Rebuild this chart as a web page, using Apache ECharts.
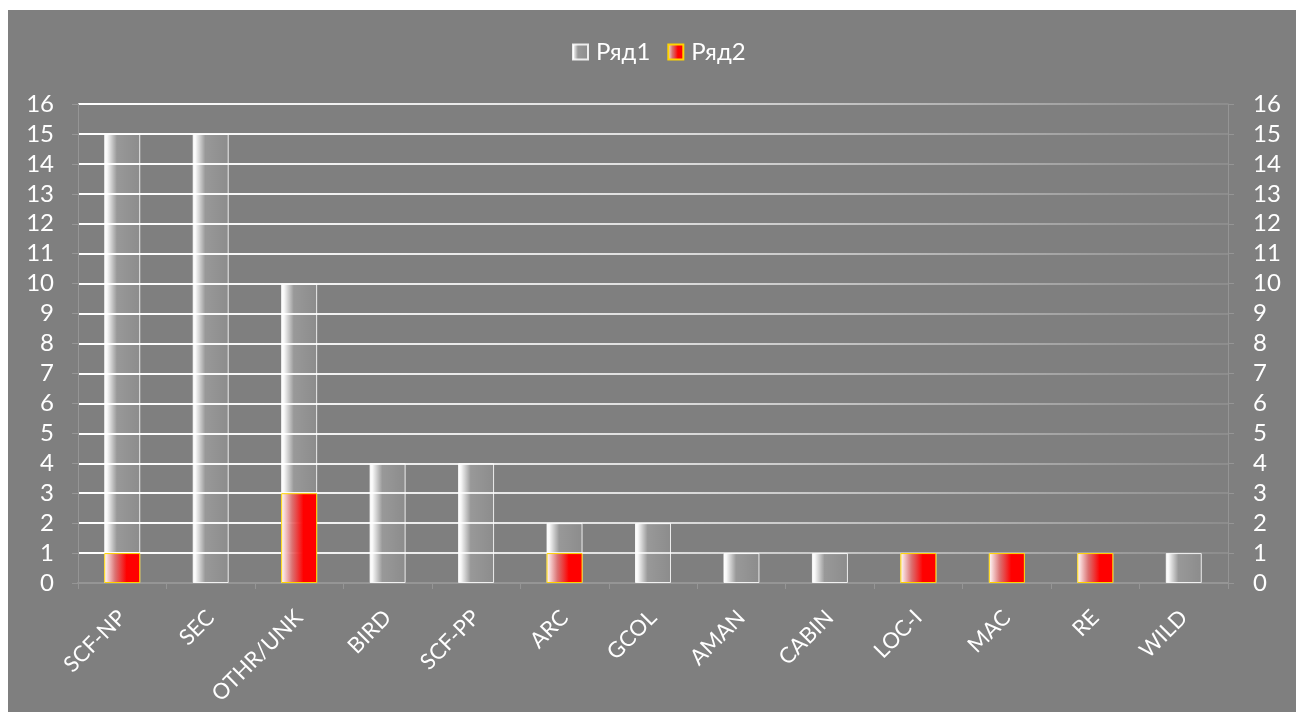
<!DOCTYPE html>
<html>
<head>
<meta charset="utf-8">
<script src="https://cdn.jsdelivr.net/npm/echarts@6/dist/echarts.min.js"></script>
<style>
  html, body { margin: 0; padding: 0; background: #ffffff; }
  #chart { position: absolute; left: 8px; top: 10px; width: 1288px; height: 702px; background: #7f7f7f; }
</style>
</head>
<body>
<div id="chart"></div>
<script>
// Event categories and counts per series
const categories = ['SCF-NP', 'SEC', 'OTHR/UNK', 'BIRD', 'SCF-PP', 'ARC', 'GCOL', 'AMAN', 'CABIN', 'LOC-I', 'MAC', 'RE', 'WILD'];
const series1Name = 'Ряд1';
const series2Name = 'Ряд2';
const series1Values = [15, 15, 10, 4, 4, 2, 2, 1, 1, 1, 1, 1, 1];
const series2Values = [1, 0, 3, 0, 0, 1, 0, 0, 0, 1, 1, 1, 0];

// zero counts are left empty so no outline is drawn on the baseline
const asBars = arr => arr.map(v => (v === 0 ? '-' : v));

const chart = echarts.init(document.getElementById('chart'));
const LG = echarts.graphic.LinearGradient;
const font = 'Lato, "Liberation Sans", sans-serif';

const silverFill = new LG(0, 0, 1, 0, [
  { offset: 0, color: 'rgba(255,255,255,1)' },
  { offset: 0.08, color: 'rgba(255,255,255,0.95)' },
  { offset: 0.35, color: 'rgba(255,255,255,0.2)' },
  { offset: 1, color: 'rgba(255,255,255,0.1)' }
]);
const redFill = new LG(0, 0, 1, 0, [
  { offset: 0, color: 'rgba(255,255,255,0.92)' },
  { offset: 0.3, color: 'rgba(225,110,110,0.9)' },
  { offset: 0.62, color: 'rgba(255,0,0,1)' },
  { offset: 1, color: 'rgba(255,0,0,1)' }
]);
const gridFade = new LG(0, 0, 1, 0, [
  { offset: 0, color: 'rgba(255,255,255,1)' },
  { offset: 0.5, color: 'rgba(255,255,255,0.75)' },
  { offset: 1, color: 'rgba(255,255,255,0.1)' }
]);

const axisGray = '#959595';

chart.setOption({
  animation: false,
  backgroundColor: '#7f7f7f',
  legend: {
    top: 25,
    left: 559,
    itemWidth: 15,
    itemHeight: 15,
    itemGap: 17,
    textStyle: { color: '#ffffff', fontSize: 24, fontFamily: font, padding: [0, 0, 0, 3] },
    data: [
      { name: series1Name, icon: 'rect' },
      { name: series2Name, icon: 'rect' }
    ]
  },
  grid: { left: 70, right: 68, top: 94, bottom: 129, containLabel: false },
  xAxis: {
    type: 'category',
    data: categories,
    boundaryGap: true,
    axisLine: { lineStyle: { color: axisGray, width: 2 } },
    axisTick: { show: true, alignWithLabel: false, length: 6, lineStyle: { color: axisGray } },
    axisLabel: {
      color: '#ffffff', fontSize: 22, fontFamily: font,
      rotate: 45, margin: 31, interval: 0
    }
  },
  yAxis: [
    {
      type: 'value', min: 0, max: 16, interval: 1, position: 'left',
      axisLine: { show: true, lineStyle: { color: axisGray, width: 1 } },
      axisTick: { show: true, length: 6, lineStyle: { color: axisGray } },
      axisLabel: { color: '#ffffff', fontSize: 24, fontFamily: font, margin: 24 },
      splitLine: { show: true, lineStyle: { color: gridFade, width: 2 } }
    },
    {
      type: 'value', min: 0, max: 16, interval: 1, position: 'right',
      axisLine: { show: true, lineStyle: { color: axisGray, width: 1 } },
      axisTick: { show: true, length: 6, lineStyle: { color: axisGray } },
      axisLabel: { color: '#ffffff', fontSize: 24, fontFamily: font, margin: 25 },
      splitLine: { show: false }
    }
  ],
  series: [
    {
      name: series1Name,
      type: 'bar',
      yAxisIndex: 0,
      data: asBars(series1Values),
      barWidth: 36,
      barGap: '-100%',
      itemStyle: { color: silverFill, borderColor: 'rgba(255,255,255,0.85)', borderWidth: 1 }
    },
    {
      name: series2Name,
      type: 'bar',
      yAxisIndex: 1,
      data: asBars(series2Values),
      barWidth: 36,
      barGap: '-100%',
      itemStyle: { color: redFill, borderColor: '#ffd400', borderWidth: 1 }
    }
  ]
});
</script>
</body>
</html>
